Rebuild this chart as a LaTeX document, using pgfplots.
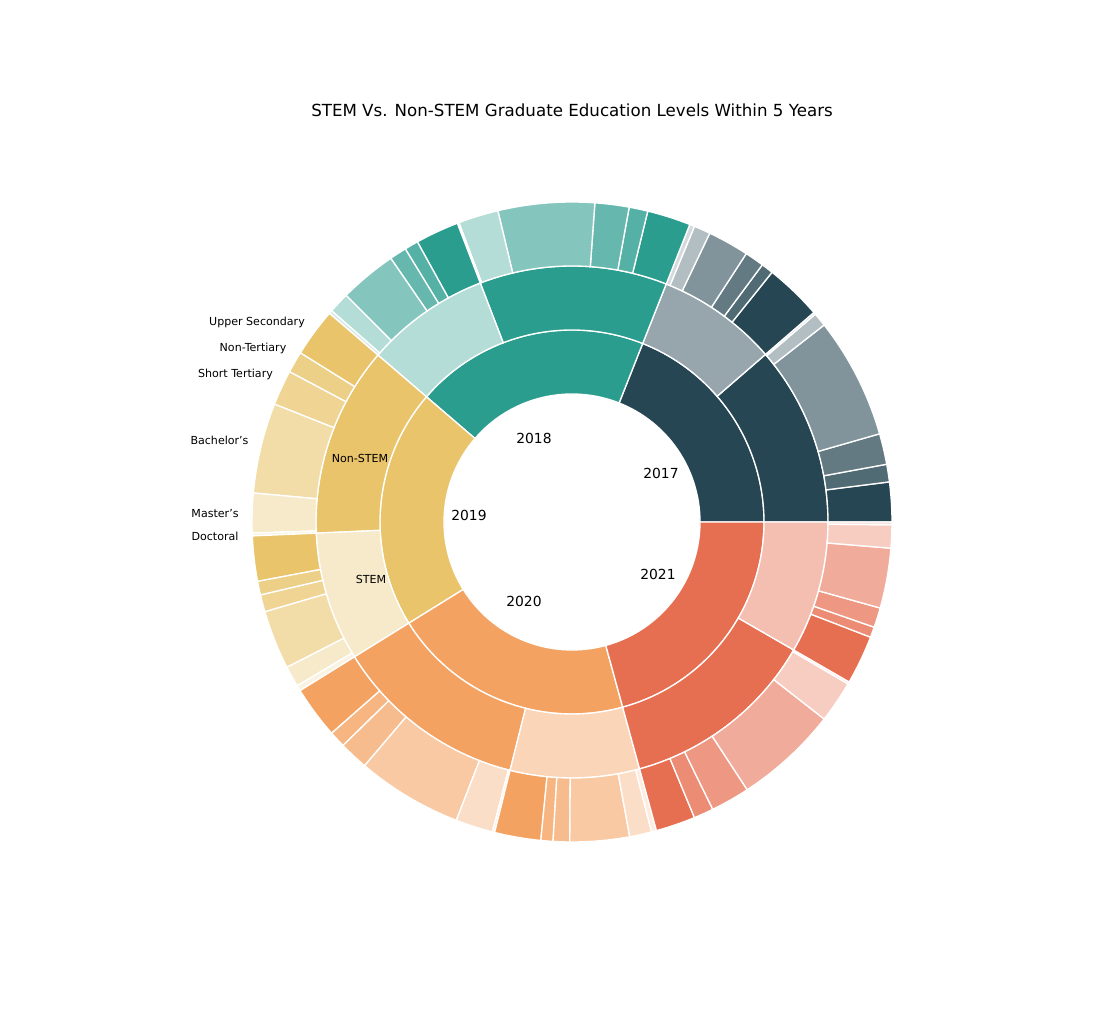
\documentclass[border=0pt]{standalone}
\usepackage{pgfplots}
\pgfplotsset{compat=1.18}
\usepackage{fontspec}
\setmainfont{DejaVu Sans}
\definecolor{cA}{HTML}{264653}
\definecolor{cB}{HTML}{2A9D8F}
\definecolor{cC}{HTML}{E9C46A}
\definecolor{cD}{HTML}{F4A261}
\definecolor{cE}{HTML}{E76F51}
% wedge: start angle, end angle, inner r, outer r, colour
\newcommand\seg[5]{\fill[#5,draw=white,line width=1pt] (axis cs:{#3*cos(#1)},{#3*sin(#1)}) arc[start angle=#1,end angle=#2,radius=#3*0.75pt] -- (axis cs:{#4*cos(#2)},{#4*sin(#2)}) arc[start angle=#2,end angle=#1,radius=#4*0.75pt] -- cycle;}
% outer ring: colour, seven boundary angles
\newcommand\ringthree[8]{%
\seg{#2}{#3}{256}{320}{#1}%
\seg{#3}{#4}{256}{320}{#1!80!white}%
\seg{#4}{#5}{256}{320}{#1!72!white}%
\seg{#5}{#6}{256}{320}{#1!58!white}%
\seg{#6}{#7}{256}{320}{#1!35!white}%
\seg{#7}{#8}{256}{320}{#1!20!white}}
\begin{document}
\begin{tikzpicture}
\begin{axis}[scale only axis,width=838.5pt,height=775.5pt,
  xmin=-572,xmax=546,ymin=-512,ymax=522,hide axis,clip=false]
\path (axis cs:-572,-512) rectangle (axis cs:546,522);
% inner ring: years
\seg{0}{68.4}{128}{192}{cA}
\seg{68.4}{139.3}{128}{192}{cB}
\seg{139.3}{211.8}{128}{192}{cC}
\seg{211.8}{285.3}{128}{192}{cD}
\seg{285.3}{360}{128}{192}{cE}
% middle ring: Non-STEM / STEM
\seg{0}{40.9}{192}{256}{cA}
\seg{40.9}{68.4}{192}{256}{cA!48!white}
\seg{68.4}{111}{192}{256}{cB}
\seg{111}{139.3}{192}{256}{cB!35!white}
\seg{139.3}{182.5}{192}{256}{cC}
\seg{182.5}{211.8}{192}{256}{cC!35!white}
\seg{211.8}{256}{192}{256}{cD}
\seg{256}{285.3}{192}{256}{cD!45!white}
\seg{285.3}{330}{192}{256}{cE}
\seg{330}{360}{192}{256}{cE!45!white}
% outer ring: education levels
\ringthree{cA}{0}{7.2}{10.4}{16}{38}{40.5}{40.9}
\ringthree{cA}{40.9}{51.3}{53.5}{57}{64.5}{67.5}{68.4}
\ringthree{cB}{68.4}{76.3}{79.7}{85.9}{103.4}{110.7}{111}
\ringthree{cB}{111}{118.9}{121.4}{124.5}{134.9}{138.7}{139.3}
\ringthree{cC}{139.3}{148.1}{152}{158.4}{174.8}{182}{182.5}
\ringthree{cC}{182.5}{190.7}{193.2}{196.3}{207}{210.8}{211.8}
\ringthree{cD}{211.8}{221.3}{224.3}{229.6}{248.8}{255.6}{256}
\ringthree{cD}{256}{264.4}{266.6}{269.6}{280.4}{284.4}{285.3}
\ringthree{cE}{285.3}{292.5}{296.1}{303.2}{322}{329.6}{330}
\ringthree{cE}{330}{338.9}{340.8}{344.4}{355.3}{359.5}{360}
% labels
\node[font=\fontsize{12.5}{14}\selectfont] at (axis cs:0,412) {STEM Vs. Non-STEM Graduate Education Levels Within 5 Years};
\begin{scope}[every node/.style={font=\fontsize{10.4}{12}\selectfont}]
\node at (axis cs:-38,84) {2018};
\node at (axis cs:89,49) {2017};
\node at (axis cs:-103,7) {2019};
\node at (axis cs:-48,-79) {2020};
\node at (axis cs:86,-52) {2021};
\end{scope}
\begin{scope}[every node/.style={font=\fontsize{8.3}{10}\selectfont}]
\node at (axis cs:-212,64) {Non-STEM};
\node at (axis cs:-201,-57) {STEM};
\node at (axis cs:-315,200) {Upper Secondary};
\node at (axis cs:-319,174) {Non-Tertiary};
\node at (axis cs:-336.5,148) {Short Tertiary};
\node at (axis cs:-352.5,82) {Bachelor’s};
\node at (axis cs:-357,8) {Master’s};
\node at (axis cs:-357,-14) {Doctoral};
\end{scope}
\end{axis}
\end{tikzpicture}
\end{document}
